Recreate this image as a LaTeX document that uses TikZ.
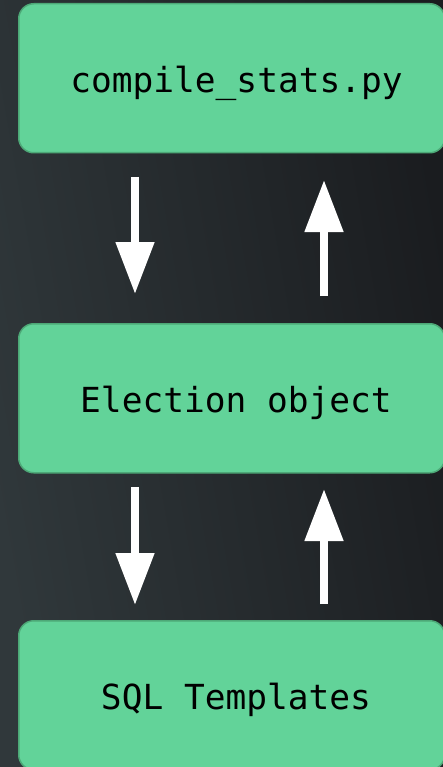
\documentclass[tikz,border=0pt]{standalone}
\usepackage{fontspec}
\setmonofont{DejaVu Sans Mono}
\usetikzlibrary{arrows.meta}
\definecolor{boxfill}{HTML}{62D399}
\definecolor{boxline}{HTML}{4DA877}
\definecolor{bgl}{HTML}{30383B}
\definecolor{bgr}{HTML}{1A1C1F}
\tikzset{
  box/.style={draw=boxline, line width=1.5pt, fill=boxfill, rounded corners=15pt,
    minimum width=426pt, minimum height=149pt, inner sep=0pt, anchor=north west},
  lbl/.style={font=\fontsize{34.5}{40}\selectfont\ttfamily, text=black, anchor=base, inner sep=0pt},
  flow/.style={draw=white, line width=8pt, line cap=butt,
    -{Triangle[width=37pt,length=52pt,fill=white]}}
}
\begin{document}
\begin{tikzpicture}[x=1pt,y=-1pt]
\useasboundingbox (0,0) rectangle (443,767);
\shade[left color=bgl, right color=bgr, shading angle=100] (0,0) rectangle (443,767);
\node[box] (b1) at (18,3) {};
\node[box] (b2) at (18,323) {};
\node[box] (b3) at (18,620) {};
\node[lbl] (t1) at (236.5,93) {compile\_stats.py};
\node[lbl] (t2) at (236,412) {Election object};
\node[lbl] (t3) at (236,709) {SQL Templates};
\coordinate (d1s) at (135,177);
\coordinate (d1e) at (135,294);
\coordinate (u1s) at (324,296);
\coordinate (u1e) at (324,180);
\coordinate (d2s) at (135,487);
\coordinate (d2e) at (135,605);
\coordinate (u2s) at (324,604);
\coordinate (u2e) at (324,489);
\draw[flow] (d1s) -- (d1e);
\draw[flow] (u1s) -- (u1e);
\draw[flow] (d2s) -- (d2e);
\draw[flow] (u2s) -- (u2e);
\end{tikzpicture}
\end{document}
